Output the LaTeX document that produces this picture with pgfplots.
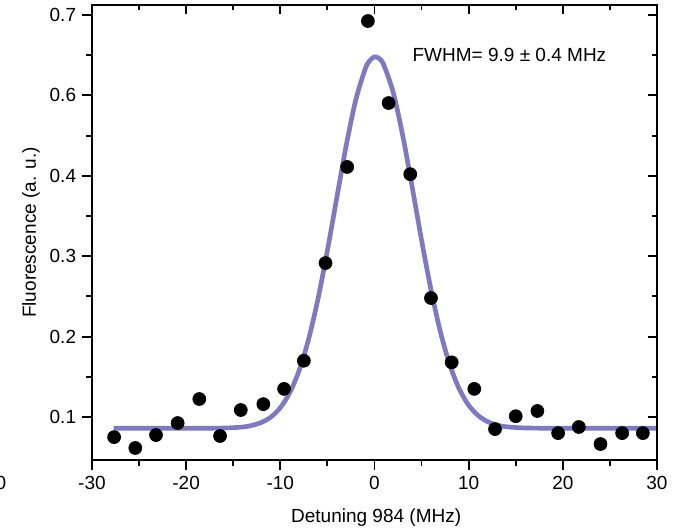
\documentclass[border=0pt]{standalone}
\usepackage{fontspec}
\setmainfont{Liberation Sans}
\usepackage{pgfplots}
\pgfplotsset{compat=1.18}
\definecolor{fitcol}{RGB}{130,120,192}
\begin{document}
\begin{tikzpicture}[font=\fontsize{11.4}{13.5}\selectfont]
\begin{axis}[
  scale only axis, width=339pt, height=273pt,
  xmin=-30, xmax=30, ymin=0.0465, ymax=0.6124,
  xtick={-30,-20,...,30}, minor x tick num=1,
  ytick={0.1,0.2,0.3,0.4,0.5,0.6},
  yticklabels={0.1,0.2,0.3,0.4,0.6,0.7},
  minor y tick num=1,
  tick align=outside, xtick pos=bottom, ytick pos=left,
  major tick length=6pt, minor tick length=3.6pt,
  /pgf/number format/assume math mode=true,
  axis line style={line width=1.1pt},
  every tick/.style={line width=1.1pt, black},
  every axis x label/.style={at={(rel axis cs:0.503,-0.1275)},anchor=center},
  every axis y label/.style={at={(rel axis cs:-0.108,0.5)},rotate=90,anchor=center},
  xlabel={Detuning 984 (MHz)},
  ylabel={Fluorescence (a. u.)},
  clip=false,
]
\addplot[fitcol, line width=2.8pt, smooth] coordinates {
(-27.7,0.0860) (-20,0.0860) (-16,0.0863) (-14,0.0876) (-13,0.0896) (-12,0.0933)
(-11,0.1000) (-10,0.1116) (-9,0.1302) (-8,0.1579) (-7,0.1967) (-6,0.2469)
(-5,0.3071) (-4,0.3729) (-3,0.4378) (-2,0.4937) (-1,0.5324) (-0.5,0.5433)
(0,0.5479) (0.5,0.5459) (1,0.5375) (2,0.5031) (3,0.4500) (4,0.3862)
(5,0.3199) (6,0.2582) (7,0.2058) (8,0.1648) (9,0.1349) (10,0.1147)
(11,0.1019) (12,0.0943) (13,0.0901) (14,0.0879) (16,0.0864) (20,0.0860) (30,0.0860)
};
\addplot[only marks, mark=*, mark size=3.9pt, black] coordinates {
(-27.65,0.0750) (-25.4,0.0615) (-23.2,0.0776) (-20.9,0.0925) (-18.6,0.1224)
(-16.4,0.0764) (-14.2,0.1087) (-11.8,0.1160) (-9.6,0.1350) (-7.5,0.1700)
(-5.2,0.2915) (-2.9,0.4110) (-0.7,0.5925) (1.5,0.4905) (3.8,0.4020)
(6.0,0.2480) (8.2,0.1680) (10.6,0.1350) (12.8,0.0850) (15.0,0.1010)
(17.3,0.1075) (19.5,0.0800) (21.7,0.0876) (24.0,0.0664) (26.3,0.0800) (28.5,0.0800)
};
\node at (axis cs:14.33,0.550) {FWHM= 9.9 \textpm{} 0.4 MHz};
\node at (rel axis cs:-0.161,-0.0505) {0};
\coordinate (bbsw) at (rel axis cs:-0.1628,-0.1516);
\coordinate (bbne) at (rel axis cs:1.0301,1.011);
\end{axis}
\begin{axis}[
  scale only axis, width=339pt, height=273pt,
  xmin=-30, xmax=30, ymin=0.0465, ymax=0.6124,
  xtick={-30,-20,...,30}, minor x tick num=1,
  ytick={0.1,0.2,0.3,0.4,0.5,0.6}, minor y tick num=1,
  xticklabels={}, yticklabels={},
  tick align=inside, xtick pos=top, ytick pos=right,
  major tick length=5.4pt, minor tick length=3pt,
  axis line style={line width=1.1pt},
  every tick/.style={line width=1.1pt, black},
]
\end{axis}
\pgfresetboundingbox
\useasboundingbox (bbsw) rectangle (bbne);
\end{tikzpicture}
\end{document}
